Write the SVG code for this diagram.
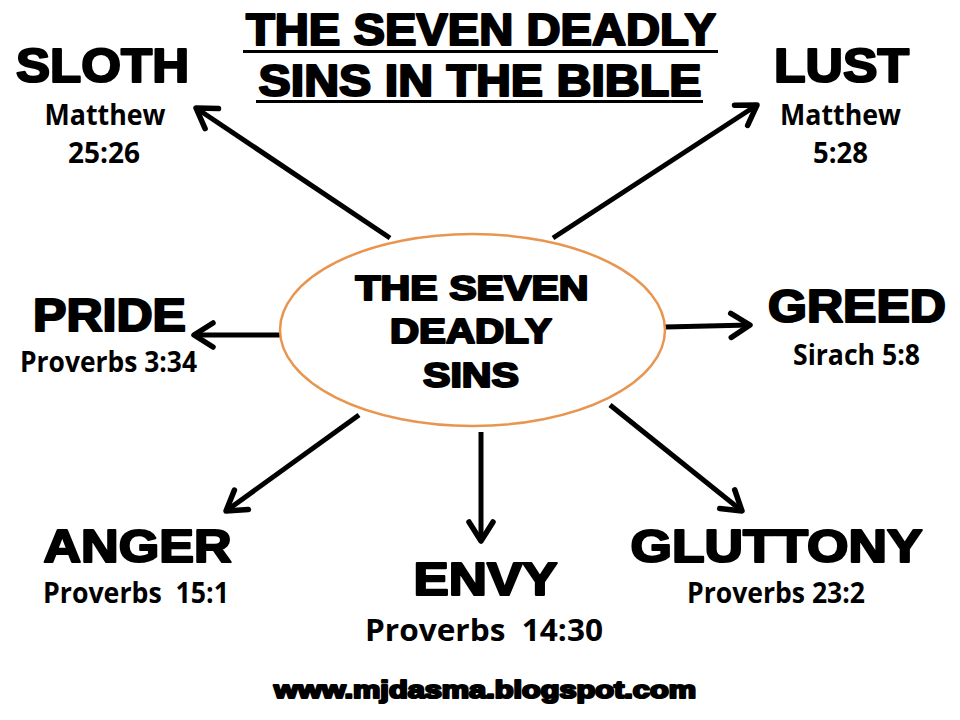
<svg xmlns="http://www.w3.org/2000/svg" width="960" height="720" viewBox="0 0 960 720">
<style>
.big{font-family:"Liberation Sans",Arial,sans-serif;font-weight:bold;fill:#000;stroke:#000;stroke-width:2.2;stroke-linejoin:round;text-anchor:middle}
.ref{font-family:"Open Sans","Noto Sans",sans-serif;font-weight:bold;fill:#000;text-anchor:middle}
.arrow{stroke:#000;stroke-width:5;fill:none;marker-end:url(#head)}
.ul{stroke:#000;stroke-width:3}
</style>
<defs>
<marker id="head" markerUnits="userSpaceOnUse" viewBox="-26 -16 30 32" refX="0" refY="0" markerWidth="30" markerHeight="32" orient="auto">
<path d="M-19,-12 L0,0 L-19,12" fill="none" stroke="#000" stroke-width="5.5" stroke-linecap="round" stroke-linejoin="round"/>
</marker>
</defs>
<rect width="960" height="720" fill="#fff"/>
<g id="title">
<text class="big" x="481" y="45" font-size="44" textLength="470" lengthAdjust="spacingAndGlyphs">THE SEVEN DEADLY</text>
<line class="ul" x1="243" y1="51.5" x2="718" y2="51.5"/>
<text class="big" x="480" y="96" font-size="44" textLength="443" lengthAdjust="spacingAndGlyphs">SINS IN THE BIBLE</text>
<line class="ul" x1="256" y1="101.5" x2="703" y2="101.5"/>
</g>
<g id="connectors">
<line class="arrow" x1="390" y1="238" x2="196" y2="108"/>
<line class="arrow" x1="553" y1="238" x2="757" y2="105"/>
<line class="arrow" x1="280" y1="335" x2="194" y2="335"/>
<line class="arrow" x1="665" y1="327" x2="750" y2="325"/>
<line class="arrow" x1="359" y1="415" x2="226" y2="511"/>
<line class="arrow" x1="481" y1="432" x2="481" y2="541"/>
<line class="arrow" x1="610" y1="405" x2="742" y2="511"/>
</g>
<g id="center">
<ellipse cx="472.5" cy="330" rx="192.5" ry="96" fill="#fff" stroke="#E8964F" stroke-width="2.5"/>
<text class="big" x="472" y="300" font-size="35" textLength="233" lengthAdjust="spacingAndGlyphs">THE SEVEN</text>
<text class="big" x="471" y="343" font-size="35" textLength="162" lengthAdjust="spacingAndGlyphs">DEADLY</text>
<text class="big" x="471" y="387" font-size="35" textLength="96" lengthAdjust="spacingAndGlyphs">SINS</text>
</g>
<g id="sloth">
<text class="big" x="102.5" y="82" font-size="48" textLength="173" lengthAdjust="spacingAndGlyphs">SLOTH</text>
<text class="ref" x="105" y="125" font-size="28" textLength="121" lengthAdjust="spacingAndGlyphs">Matthew</text>
<text class="ref" x="104" y="163" font-size="28" textLength="72" lengthAdjust="spacingAndGlyphs">25:26</text>
</g>
<g id="lust">
<text class="big" x="841.5" y="82" font-size="48" textLength="135" lengthAdjust="spacingAndGlyphs">LUST</text>
<text class="ref" x="840.5" y="125" font-size="28" textLength="121" lengthAdjust="spacingAndGlyphs">Matthew</text>
<text class="ref" x="840.5" y="163" font-size="28" textLength="55" lengthAdjust="spacingAndGlyphs">5:28</text>
</g>
<g id="pride">
<text class="big" x="109.5" y="331" font-size="46" textLength="153" lengthAdjust="spacingAndGlyphs">PRIDE</text>
<text class="ref" x="108.5" y="372" font-size="28" textLength="177" lengthAdjust="spacingAndGlyphs">Proverbs 3:34</text>
</g>
<g id="greed">
<text class="big" x="857" y="322" font-size="46" textLength="178" lengthAdjust="spacingAndGlyphs">GREED</text>
<text class="ref" x="856.5" y="365" font-size="28" textLength="127" lengthAdjust="spacingAndGlyphs">Sirach 5:8</text>
</g>
<g id="anger">
<text class="big" x="137.5" y="562" font-size="46" textLength="188" lengthAdjust="spacingAndGlyphs">ANGER</text>
<text class="ref" x="136" y="603" font-size="28" textLength="186" lengthAdjust="spacingAndGlyphs" xml:space="preserve" style="white-space:pre">Proverbs  15:1</text>
</g>
<g id="envy">
<text class="big" x="485.5" y="595" font-size="46" textLength="144" lengthAdjust="spacingAndGlyphs">ENVY</text>
<text class="ref" x="484" y="641" font-size="30" textLength="238" lengthAdjust="spacingAndGlyphs" xml:space="preserve" style="white-space:pre">Proverbs  14:30</text>
</g>
<g id="gluttony">
<text class="big" x="776.5" y="562" font-size="46" textLength="292" lengthAdjust="spacingAndGlyphs">GLUTTONY</text>
<text class="ref" x="776" y="603" font-size="28" textLength="178" lengthAdjust="spacingAndGlyphs">Proverbs 23:2</text>
</g>
<g id="footer">
<text class="big" x="485" y="698" font-size="24" stroke-width="1.4" textLength="422" lengthAdjust="spacingAndGlyphs">www.mjdasma.blogspot.com</text>
</g>
</svg>
